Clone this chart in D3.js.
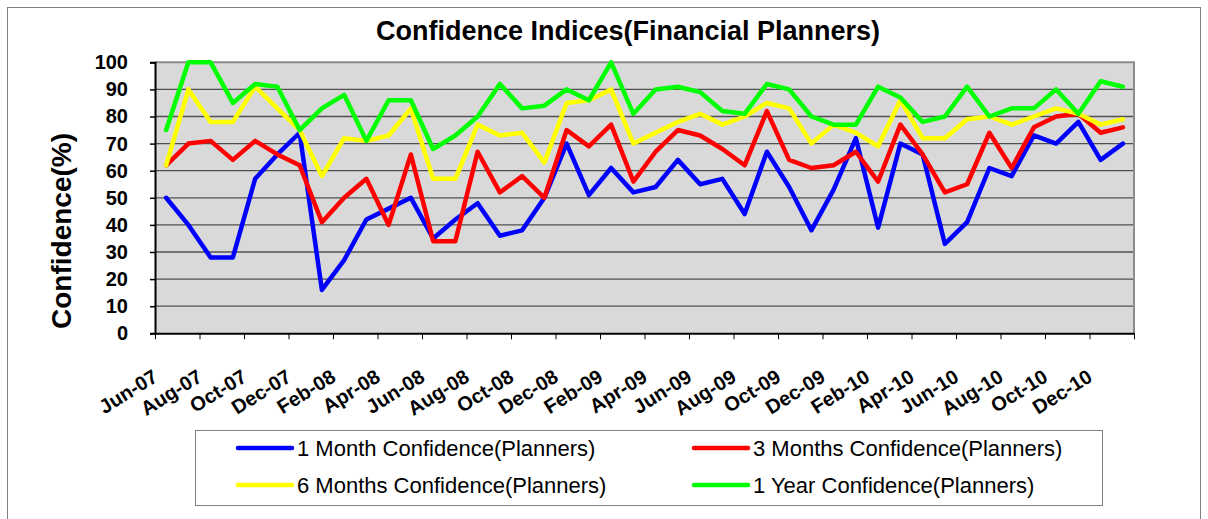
<!DOCTYPE html>
<html>
<head>
<meta charset="utf-8">
<script src="https://cdn.jsdelivr.net/npm/d3@7"></script>
<style>
body { margin:0; background:#fff; }
svg { display:block; font-family:"Liberation Sans", Arial, sans-serif; }
</style>
</head>
<body>
<svg id="chart"></svg>
<script>
var screen = {width:1208, height:519}
var plot = {left:155, right:1134, top:62.3, bottom:333.3}

// months Jun-07 .. Jan-11
var months = ["Jun-07","Jul-07","Aug-07","Sep-07","Oct-07","Nov-07","Dec-07","Jan-08",
              "Feb-08","Mar-08","Apr-08","May-08","Jun-08","Jul-08","Aug-08","Sep-08",
              "Oct-08","Nov-08","Dec-08","Jan-09","Feb-09","Mar-09","Apr-09","May-09",
              "Jun-09","Jul-09","Aug-09","Sep-09","Oct-09","Nov-09","Dec-09","Jan-10",
              "Feb-10","Mar-10","Apr-10","May-10","Jun-10","Jul-10","Aug-10","Sep-10",
              "Oct-10","Nov-10","Dec-10","Jan-11"]

var oneMonth   = [50,40,28,28,57,66,74, 16,27,42,46,50,35,42,48, 36,38,50,70,51,61,52,
                  54,64,55,57,44,67,54, 38,53,72,39,70,66,33,41, 61,58,73,70,78,64,70]
var threeMonth = [62,70,71,64,71,66,62, 41,50,57,40,66,34,34,67, 52,58,50,75,69,77,56,
                  67,75,73,68,62,82,64, 61,62,67,56,77,66,52,55, 74,61,76,80,81,74,76]
var sixMonth   = [62,90,78,78,91,83,75, 58,72,71,73,83,57,57,77, 73,74,63,85,86,90,70,
                  74,78,81,77,80,85,83, 70,77,74,69,86,72,72,79, 80,77,80,83,81,77,79]
var oneYear    = [75,100,100,85,92,91,75, 83,88,71,86,86,68,73,80, 92,83,84,90,86,100,81,
                  90,91,89,82,81,92,90, 80,77,77,91,87,78,80,91, 80,83,83,90,81,93,91]

var seriesNames = ["1 Month Confidence(Planners)","3 Months Confidence(Planners)",
                   "6 Months Confidence(Planners)","1 Year Confidence(Planners)"]
var seriesColors = ["#0000ff","#ff0000","#ffff00","#00ff00"]
var yTicks = [0,10,20,30,40,50,60,70,80,90,100]

var svg = d3.select("#chart")
            .attr("width", screen.width)
            .attr("height", screen.height)

// outer chart border
svg.append("rect")
   .attr("x",7.5).attr("y",7.5)
   .attr("width",1193).attr("height",512)
   .attr("fill","#fff")
   .attr("stroke","#7f7f7f")
   .attr("stroke-width",1)

var xScale = d3.scaleLinear()
               .domain([0, months.length])
               .range([plot.left, plot.right])
var yScale = d3.scaleLinear()
               .domain([0,100])
               .range([plot.bottom, plot.top])

// plot background
svg.append("rect")
   .attr("x",plot.left).attr("y",plot.top)
   .attr("width",plot.right-plot.left).attr("height",plot.bottom-plot.top)
   .attr("fill","#d9d9d9")

// grid lines
svg.append("g")
   .selectAll("line")
   .data(yTicks.filter(function(t){return t>0 && t<100}))
   .enter()
   .append("line")
   .attr("x1",plot.left).attr("x2",plot.right)
   .attr("y1",function(t){return yScale(t)})
   .attr("y2",function(t){return yScale(t)})
   .attr("stroke","#505050")
   .attr("stroke-width",1.3)

// top and right frame
svg.append("path")
   .attr("d","M"+plot.left+","+plot.top+"H"+plot.right+"V"+plot.bottom)
   .attr("fill","none")
   .attr("stroke","#8c8c8c")
   .attr("stroke-width",2)

// lines
var lineGenerator = d3.line()
                      .x(function(v,i){return xScale(i+0.5)})
                      .y(function(v){return yScale(v)})
var allSeries = [oneMonth, threeMonth, sixMonth, oneYear]
svg.append("g")
   .selectAll("path")
   .data(allSeries)
   .enter()
   .append("path")
   .attr("d", lineGenerator)
   .attr("fill","none")
   .attr("stroke", function(d,i){return seriesColors[i]})
   .attr("stroke-width",4.5)
   .attr("stroke-linejoin","round")
   .attr("stroke-linecap","round")

// axes
var yAxis = d3.axisLeft(yScale).tickValues(yTicks).tickSize(5).tickPadding(22)
var yG = svg.append("g")
   .attr("transform","translate("+plot.left+",0)")
   .call(yAxis)
yG.select(".domain").attr("stroke","#000").attr("stroke-width",2)
yG.selectAll(".tick line").attr("stroke","#000").attr("stroke-width",1.5)
yG.selectAll("text")
  .attr("font-size",20).attr("font-weight","bold")
  .attr("font-family","'Liberation Sans', Arial, sans-serif")
  .attr("fill","#000")

var xAxis = d3.axisBottom(xScale)
              .tickValues(d3.range(0, months.length+1, 2))
              .tickSize(6)
              .tickSizeOuter(0)
              .tickFormat("")
var xG = svg.append("g")
   .attr("transform","translate(0,"+plot.bottom+")")
   .call(xAxis)
xG.select(".domain").attr("stroke","#000").attr("stroke-width",2)
xG.selectAll(".tick line").attr("stroke","#000").attr("stroke-width",1)

// x labels (every other month)
var labelIdx = d3.range(0, months.length-1, 2)
svg.append("g")
   .selectAll("text")
   .data(labelIdx)
   .enter()
   .append("text")
   .attr("transform", function(i){
       return "translate("+(xScale(i+0.5)-7)+","+(plot.bottom+47)+") rotate(-32)"})
   .attr("text-anchor","end")
   .attr("font-size",20)
   .attr("font-weight","bold")
   .text(function(i){return months[i]})

// titles
svg.append("text")
   .attr("x",628).attr("y",40)
   .attr("text-anchor","middle")
   .attr("font-size",27)
   .attr("font-weight","bold")
   .text("Confidence Indices(Financial Planners)")

svg.append("text")
   .attr("transform","translate(71,231) rotate(-90)")
   .attr("text-anchor","middle")
   .attr("font-size",28)
   .attr("font-weight","bold")
   .text("Confidence(%)")

// legend
svg.append("rect")
   .attr("x",195.5).attr("y",430.5)
   .attr("width",907).attr("height",75)
   .attr("fill","#fff")
   .attr("stroke","#808080")
   .attr("stroke-width",1)

var legendPos = [{x:238,y:448},{x:694,y:448},{x:238,y:485},{x:694,y:485}]
var legend = svg.append("g")
                .selectAll("g")
                .data(seriesNames)
                .enter()
                .append("g")
                .attr("transform",function(d,i){return "translate("+legendPos[i].x+","+legendPos[i].y+")"})
legend.append("line")
      .attr("x1",0).attr("x2",54)
      .attr("stroke",function(d,i){return seriesColors[i]})
      .attr("stroke-width",4.5)
      .attr("stroke-linecap","round")
legend.append("text")
      .attr("x",59).attr("y",8)
      .attr("font-size",22)
      .text(function(d){return d})
</script>
</body>
</html>
